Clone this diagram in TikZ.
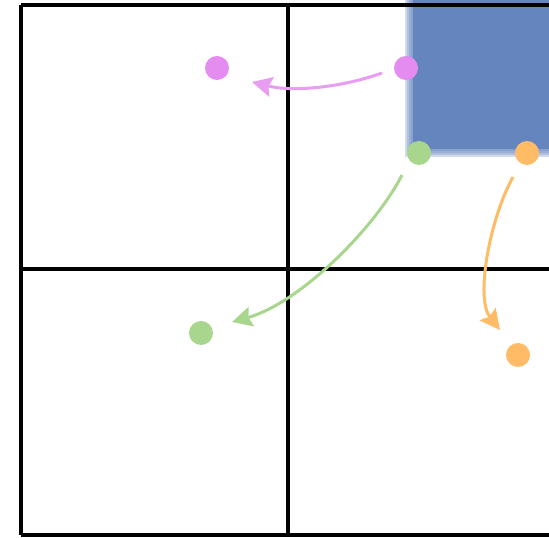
\documentclass[tikz,border=0pt]{standalone}
\usetikzlibrary{arrows.meta}
\definecolor{bluesq}{RGB}{101,133,191}
\definecolor{pinkc}{RGB}{228,140,240}
\definecolor{greenc}{RGB}{168,214,140}
\definecolor{orangec}{RGB}{255,187,102}
\tikzset{
  dot/.style={circle, inner sep=0pt, minimum size=24pt},
  gridline/.style={line width=3.3pt, black},
  move/.style={line width=3pt, -{Stealth[length=20pt,width=20pt,inset=3pt]}},
}
\begin{document}
\begin{tikzpicture}[x=1pt,y=1pt]
\useasboundingbox (0,0) rectangle (549,538);
% blurred blue square
\begin{scope}
\clip (0,0) rectangle (549,538);
\foreach \i in {0,...,3} {
  \fill[bluesq, opacity=0.3] (405+2*\i,381+2*\i) rectangle (560,538);
}
\fill[bluesq] (413,389) rectangle (560,538);
\end{scope}
% grid
\draw[gridline] (21,533) -- (549,533);
\draw[gridline] (21,3) -- (549,3);
\draw[gridline] (21,533) -- (21,3);
\draw[gridline] (288,533) -- (288,3);
\draw[gridline] (21,269) -- (549,269);
% dots
\node[dot, fill=pinkc] (p1) at (406,470) {};
\node[dot, fill=pinkc] (p2) at (217,470) {};
\node[dot, fill=greenc] (g1) at (419,385) {};
\node[dot, fill=greenc] (g2) at (201,205) {};
\node[dot, fill=orangec] (o1) at (527,385) {};
\node[dot, fill=orangec] (o2) at (518,183) {};
% arrow ends
\coordinate (ps) at (382,465);
\coordinate (pe) at (252,456);
\coordinate (gs) at (402,363);
\coordinate (ge) at (232,216);
\coordinate (os) at (513,361);
\coordinate (oe) at (500,208);
\draw[move, pinkc!85!white] (ps) .. controls (340,450) and (292,446) .. (pe);
\draw[move, greenc] (gs) .. controls (375,310) and (300,235) .. (ge);
\draw[move, orangec] (os) .. controls (490,320) and (475,240) .. (oe);
\end{tikzpicture}
\end{document}
